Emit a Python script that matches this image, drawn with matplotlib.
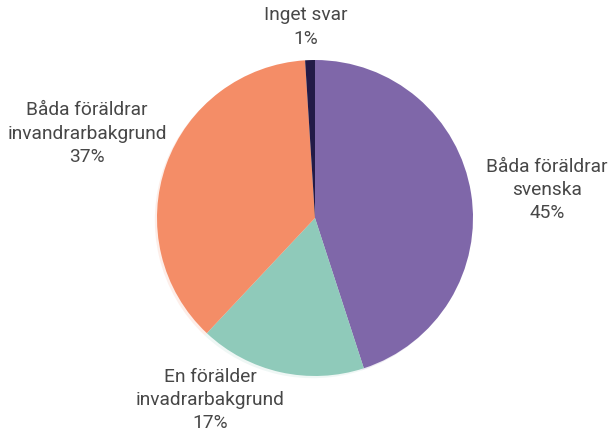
import matplotlib
matplotlib.use("Agg")
import matplotlib.pyplot as plt

plt.rcParams['font.family'] = ['Roboto', 'DejaVu Sans']

categories = ["Båda föräldrar\nsvenska", "En förälder\ninvadrarbakgrund",
              "Båda föräldrar\ninvandrarbakgrund", "Inget svar"]
values = [45, 17, 37, 1]
colors = ["#7F67A9", "#8FCABA", "#F48D67", "#231B47"]
# label anchor positions in figure fraction
label_pos = [(0.898, 0.566), (0.345, 0.087), (0.143, 0.695), (0.502, 0.938)]

W, H = 609, 438
fig = plt.figure(figsize=(W / 100, H / 100), dpi=100)
cx, cy, r = 315, 218, 158
ax = fig.add_axes([(cx - r) / W, (H - cy - r) / H, 2 * r / W, 2 * r / H])
ax.pie(values, colors=colors, startangle=90, counterclock=False,
       wedgeprops=dict(linewidth=0),
       shadow=dict(ox=-0.01, oy=-0.01, alpha=0.14, shade=0.0))
ax.set_xlim(-1, 1)
ax.set_ylim(-1, 1)
ax.axis('off')

for name, v, (x, y) in zip(categories, values, label_pos):
    fig.text(x, y, f"{name}\n{v}%", ha='center', va='center',
             fontsize=13.8, color='#474747', linespacing=1.38)

fig.savefig("out.png", dpi=100)
